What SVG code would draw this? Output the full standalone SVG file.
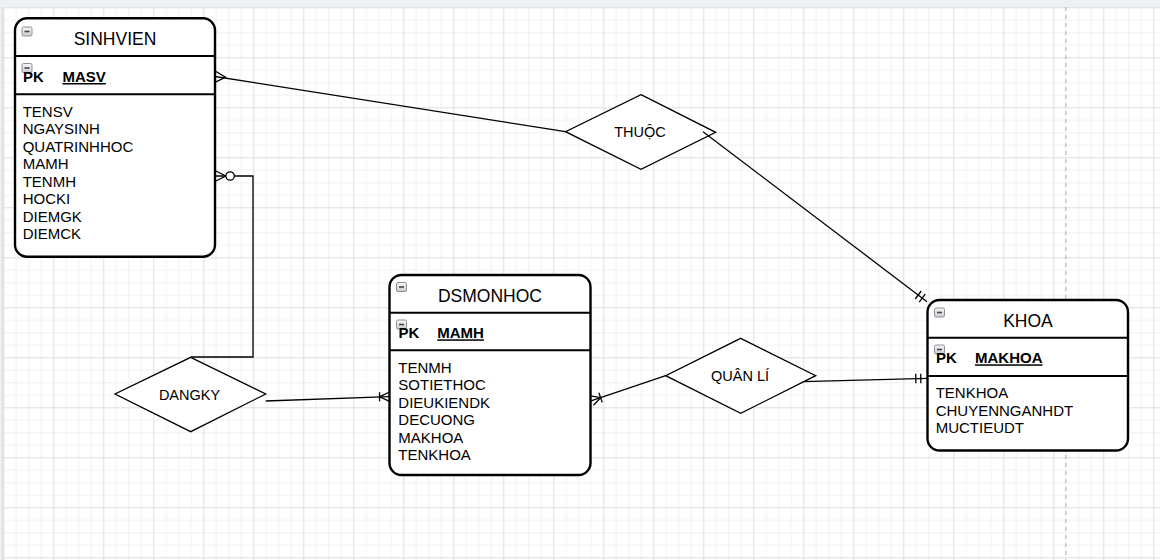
<svg xmlns="http://www.w3.org/2000/svg" width="1160" height="560" viewBox="0 0 1160 560">
  <defs>
    <pattern id="grid" x="3.3" y="7.3" width="50" height="50" patternUnits="userSpaceOnUse">
      <g stroke="#f0f0f0" stroke-width="1">
        <line x1="13" y1="0" x2="13" y2="50"/>
        <line x1="25.5" y1="0" x2="25.5" y2="50"/>
        <line x1="38" y1="0" x2="38" y2="50"/>
        <line x1="0" y1="13" x2="50" y2="13"/>
        <line x1="0" y1="25.5" x2="50" y2="25.5"/>
        <line x1="0" y1="38" x2="50" y2="38"/>
      </g>
      <g stroke="#dedede" stroke-width="1">
        <line x1="0.5" y1="0" x2="0.5" y2="50"/>
        <line x1="0" y1="0.5" x2="50" y2="0.5"/>
      </g>
    </pattern>
    <linearGradient id="icoGrad" x1="0" y1="0" x2="0" y2="1">
      <stop offset="0" stop-color="#f7f7f7"/>
      <stop offset="1" stop-color="#c9cdd2"/>
    </linearGradient>
    <g id="minus">
      <rect x="0.5" y="0.5" width="10" height="9" rx="1.5" fill="url(#icoGrad)" stroke="#8c9196" stroke-width="1"/>
      <line x1="3" y1="5" x2="8" y2="5" stroke="#454545" stroke-width="1.6"/>
    </g>
  </defs>
  <style>
    .t { font-family: "Liberation Sans", Arial, sans-serif; fill: #000; }
    .title { font-size: 17.5px; text-anchor: middle; }
    .pk { font-size: 15px; font-weight: bold; }
    .key { font-size: 15px; font-weight: bold; text-decoration: underline; }
    .attr { font-size: 15px; }
    .rel { font-size: 14.5px; text-anchor: middle; }
    .box { fill: #fff; stroke: #000; stroke-width: 2.4; }
    .sep { stroke: #000; stroke-width: 2; }
    .dia { fill: #fff; stroke: #000; stroke-width: 1.3; }
    .edge { fill: none; stroke: #000; stroke-width: 1.3; }
  </style>

  <!-- background -->
  <rect x="0" y="0" width="1160" height="560" fill="#eef0f2"/>
  <rect x="3" y="7" width="1157" height="553" fill="#ffffff"/>
  <rect x="3" y="7" width="1157" height="553" fill="url(#grid)"/>
  <line x1="3" y1="7.5" x2="1160" y2="7.5" stroke="#e2e4e6" stroke-width="1"/>
  <line x1="2.5" y1="7" x2="2.5" y2="560" stroke="#d6d8da" stroke-width="1"/>
  <line x1="1065.7" y1="7" x2="1065.7" y2="560" stroke="#b9b9b9" stroke-width="1.2" stroke-dasharray="4,4"/>

  <!-- SINHVIEN -->
  <g id="sinhvien">
    <rect class="box" x="15" y="18.3" width="200" height="238.4" rx="12"/>
    <line class="sep" x1="15" y1="56" x2="215" y2="56"/>
    <line class="sep" x1="15" y1="94.3" x2="215" y2="94.3" stroke-width="1.4"/>
    <use href="#minus" x="21.5" y="26.5"/>
    <use href="#minus" x="21.5" y="63"/>
    <text class="t title" x="115" y="45">SINHVIEN</text>
    <text class="t pk" x="23" y="82">PK</text>
    <text class="t key" x="62.5" y="82">MASV</text>
    <text class="t attr" x="22.7" y="116.7">TENSV</text>
    <text class="t attr" x="22.7" y="134.2">NGAYSINH</text>
    <text class="t attr" x="22.7" y="151.7">QUATRINHHOC</text>
    <text class="t attr" x="22.7" y="169.2">MAMH</text>
    <text class="t attr" x="22.7" y="186.7">TENMH</text>
    <text class="t attr" x="22.7" y="204.2">HOCKI</text>
    <text class="t attr" x="22.7" y="221.7">DIEMGK</text>
    <text class="t attr" x="22.7" y="239.2">DIEMCK</text>
  </g>

  <!-- DSMONHOC -->
  <g id="dsmonhoc">
    <rect class="box" x="389.5" y="275" width="201" height="200" rx="12"/>
    <line class="sep" x1="389.5" y1="312.7" x2="590.5" y2="312.7"/>
    <line class="sep" x1="389.5" y1="350.3" x2="590.5" y2="350.3" stroke-width="1.4"/>
    <use href="#minus" x="396" y="282"/>
    <use href="#minus" x="396" y="319.5"/>
    <text class="t title" x="490" y="301.7">DSMONHOC</text>
    <text class="t pk" x="398.5" y="338.3">PK</text>
    <text class="t key" x="437.3" y="338.3">MAMH</text>
    <text class="t attr" x="398.3" y="372.7">TENMH</text>
    <text class="t attr" x="398.3" y="390.2">SOTIETHOC</text>
    <text class="t attr" x="398.3" y="407.7">DIEUKIENDK</text>
    <text class="t attr" x="398.3" y="425.2">DECUONG</text>
    <text class="t attr" x="398.3" y="442.7">MAKHOA</text>
    <text class="t attr" x="398.3" y="460.2">TENKHOA</text>
  </g>

  <!-- KHOA -->
  <g id="khoa">
    <rect class="box" x="927.5" y="300" width="200.5" height="150.5" rx="12"/>
    <line class="sep" x1="927.5" y1="337.7" x2="1128" y2="337.7"/>
    <line class="sep" x1="927.5" y1="376" x2="1128" y2="376" stroke-width="1.4"/>
    <use href="#minus" x="934" y="307.5"/>
    <use href="#minus" x="934" y="344.5"/>
    <text class="t title" x="1028" y="326.7">KHOA</text>
    <text class="t pk" x="936" y="363.3">PK</text>
    <text class="t key" x="975" y="363.3">MAKHOA</text>
    <text class="t attr" x="935.7" y="398.3">TENKHOA</text>
    <text class="t attr" x="935.7" y="415.8">CHUYENNGANHDT</text>
    <text class="t attr" x="935.7" y="433.3">MUCTIEUDT</text>
  </g>

  <!-- Relationships -->
  <g id="thuoc">
    <polygon class="dia" points="641,94.7 715.7,132.3 641,169.3 565.5,131.7"/>
    <text class="t rel" x="640" y="136.5">THUỘC</text>
  </g>
  <g id="dangky">
    <polygon class="dia" points="190.7,357.3 265.7,394 190.7,431.7 115,394"/>
    <text class="t rel" x="189.5" y="399.5">DANGKY</text>
  </g>
  <g id="quanli">
    <polygon class="dia" points="740.7,338.3 815.7,375.7 740.7,413.3 665.7,375.7"/>
    <text class="t rel" x="740" y="381">QUÂN LÍ</text>
  </g>

  <!-- Connectors -->
  <g id="connectors" class="edge" fill="none" stroke="#000" stroke-width="1.3">
    <!-- SINHVIEN - THUOC (many) -->
    <path class="edge" d="M215,76.5 L565.5,131.7"/>
    <path class="edge" d="M216,71.5 L225.5,77.2 L216,81.8"/>
    <!-- THUOC - KHOA (mandatory one) -->
    <path class="edge" d="M703,131.7 L927,301.7"/>
    <path class="edge" d="M919.2,302.1 L925.2,294.1 M915.2,299 L921.2,291"/>
    <!-- SINHVIEN - DANGKY (zero or many) -->
    <path class="edge" d="M215,176 L226,176 M234.3,176 L253,176 L253,357 L190.7,357"/>
    <path class="edge" d="M216,171 L225.8,176 L216,181"/>
    <circle cx="230.1" cy="176" r="4.2" fill="#fff" stroke="#000" stroke-width="1.3"/>
    <!-- DANGKY - DSMONHOC (one or many) -->
    <path class="edge" d="M265.7,401 L389.5,396.6"/>
    <path class="edge" d="M389.5,392 L379.6,396.8 L389.5,401.4 M379.6,392.3 L379.6,401.3"/>
    <!-- DSMONHOC - QUAN LI (one or many) -->
    <path class="edge" d="M591,400.9 L665.7,375.7"/>
    <path class="edge" d="M590.3,395.8 L600.6,397.6 L593.5,405.3 M598.9,392.7 L602.2,402.4"/>
    <!-- QUAN LI - KHOA (mandatory one) -->
    <path class="edge" d="M802.7,381.7 L927.5,378.3"/>
    <path class="edge" d="M915.7,373.8 L915.9,383.3 M920.7,373.7 L920.9,383.2"/>
  </g>
</svg>
